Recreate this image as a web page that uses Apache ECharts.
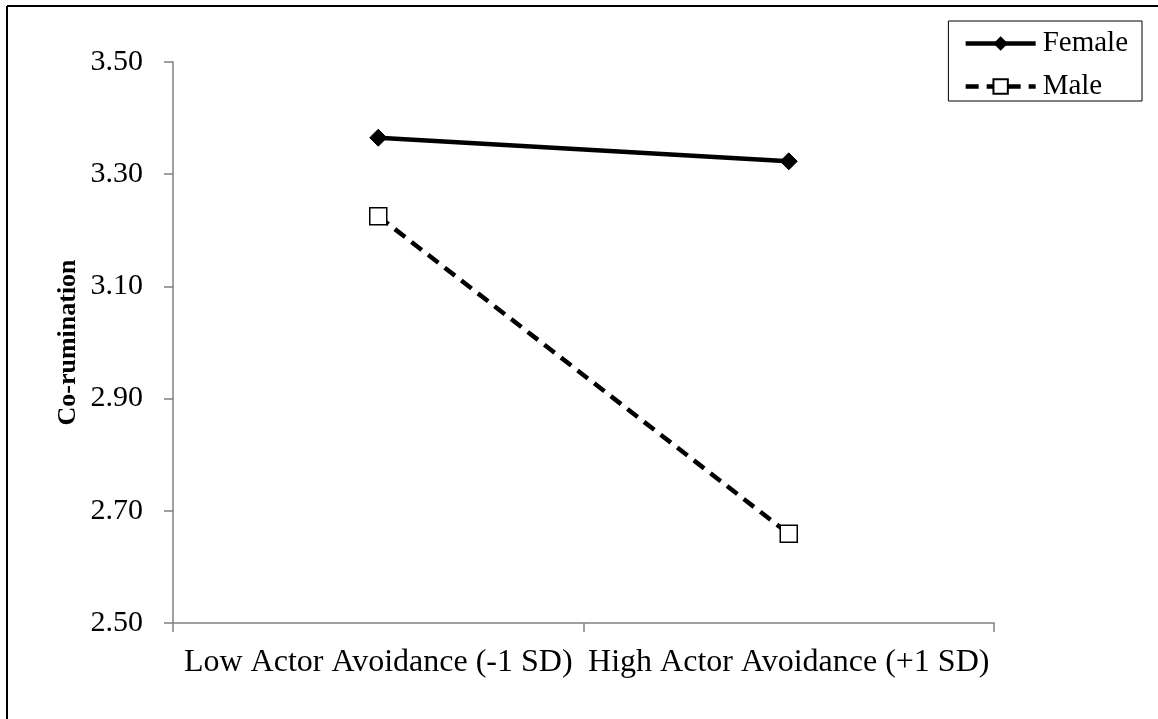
<!DOCTYPE html>
<html>
<head>
<meta charset="utf-8">
<script src="https://cdn.jsdelivr.net/npm/echarts@6/dist/echarts.min.js"></script>
<style>
  html, body { margin: 0; padding: 0; background: #fff; }
  #chart { width: 1158px; height: 719px; }
</style>
</head>
<body>
<div id="chart"></div>
<script>
// values
const categories = ['Low Actor Avoidance (-1 SD)', 'High Actor Avoidance (+1 SD)'];
const female = [3.365, 3.323];
const male = [3.225, 2.659];
const yTicks = [2.5, 3.5, 0.2]; // min, max, step

const serif = '"Liberation Serif", "DejaVu Serif", serif';
const chart = echarts.init(document.getElementById('chart'));

const option = {
  backgroundColor: '#fff',
  animation: false,
  textStyle: { fontFamily: serif },
  grid: { left: 173, right: 164, top: 62, bottom: 96 },
  legend: {
    right: 16,
    top: 21,
    orient: 'vertical',
    itemWidth: 70,
    itemHeight: 18,
    itemGap: 14,
    padding: [8, 14, 0, 15],
    borderColor: '#000',
    borderWidth: 1,
    lineStyle: { width: 4.5 },
    textStyle: { fontFamily: serif, fontSize: 29, color: '#000', lineHeight: 27, padding: [0, 0, 0, 2] },
    data: ['Female', 'Male']
  },
  xAxis: {
    type: 'category',
    data: categories,
    boundaryGap: true,
    axisLine: { lineStyle: { color: '#808080', width: 1.5 } },
    axisTick: { show: true, length: 9, lineStyle: { color: '#808080', width: 1.5 } },
    axisLabel: { fontFamily: serif, fontSize: 32, color: '#000', margin: 24, interval: 0 },
    splitLine: { show: false }
  },
  yAxis: {
    type: 'value',
    min: yTicks[0],
    max: yTicks[1],
    interval: yTicks[2],
    name: 'Co-rumination',
    nameLocation: 'middle',
    nameGap: 92,
    nameMoveOverlap: false,
    nameTextStyle: { fontFamily: serif, fontSize: 26, fontWeight: 'bold', color: '#000' },
    axisLine: { show: true, lineStyle: { color: '#808080', width: 1.5 } },
    axisTick: { show: true, length: 9, lineStyle: { color: '#808080', width: 1.5 } },
    axisLabel: {
      fontFamily: serif, fontSize: 30, color: '#000', margin: 30,
      formatter: v => v.toFixed(2)
    },
    splitLine: { show: false }
  },
  series: [
    {
      name: 'Female',
      type: 'line',
      data: female,
      symbol: 'diamond',
      symbolSize: 17,
      lineStyle: { color: '#000', width: 4.5 },
      itemStyle: { color: '#000', borderColor: '#000' }
    },
    {
      name: 'Male',
      type: 'line',
      data: male,
      symbol: 'rect',
      symbolSize: 17,
      lineStyle: { color: '#000', width: 4.5, type: [13, 8] },
      itemStyle: { color: '#fff', borderColor: '#000', borderWidth: 1.5 }
    }
  ],
  graphic: [
    { type: 'line', shape: { x1: 7, y1: 6, x2: 1158, y2: 6 }, style: { stroke: '#000', lineWidth: 2 } },
    { type: 'line', shape: { x1: 7, y1: 6, x2: 7, y2: 719 }, style: { stroke: '#000', lineWidth: 2 } }
  ]
};

chart.setOption(option);
</script>
</body>
</html>
